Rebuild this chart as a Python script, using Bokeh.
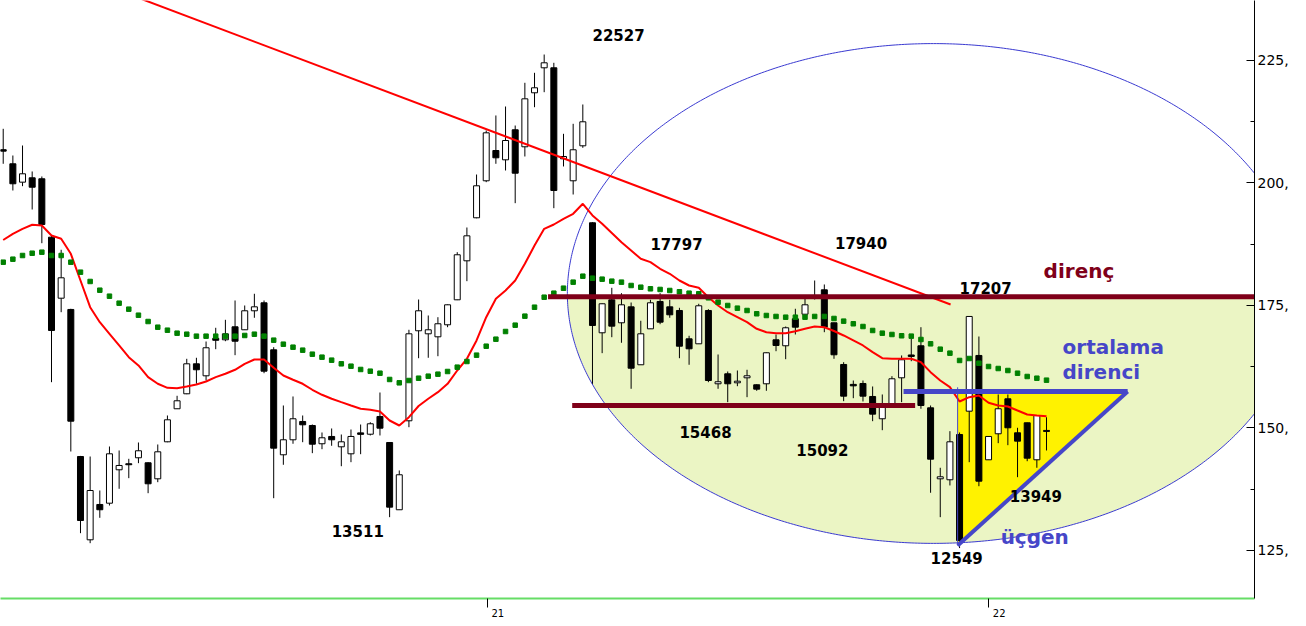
import numpy as np
from bokeh.plotting import figure
from bokeh.models import Range1d, FixedTicker, PrintfTickFormatter, ColumnDataSource
from bokeh.core.properties import value
from bokeh.embed import file_html
from bokeh.resources import INLINE

# ---------------- data (weekly candles, index 0..108) ----------------
opens = [206.8, 203.92, 200.17, 201.06, 200.86, 188.94, 176.49, 174.19, 144.18, 127.18,
         134.39, 134.65, 141.47, 142.7, 143.92, 142.9, 139.63, 147.18, 153.92, 156.98,
         163.1, 160.65, 168.3, 168.0, 170.65, 170.04, 173.92, 175.55, 165.96, 144.53,
         147.59, 151.33, 150.51, 146.78, 148.27, 146.16, 144.73, 149.0, 148.73, 152.35,
         147.04, 133.31, 151.47, 169.84, 169.22, 168.61, 171.06, 176.16, 184.12, 192.9,
         200.45, 206.63, 204.73, 210.86, 207.39, 218.41, 223.51, 223.51, 204.94, 200.45,
         207.59, 191.88, 169.43, 176.16, 171.47, 174.73, 162.9, 170.24, 175.82, 174.73,
         173.98, 168.2, 167.18, 173.98, 159.02, 161.06, 159.22, 160.24, 158.82, 159.02,
         168.0, 166.78, 172.29, 173.22, 176.43, 178.2, 171.47, 162.96, 158.9, 159.08,
         156.43, 151.88, 154.59, 160.24, 164.9, 166.78, 154.12, 139.63, 139.43, 148.67,
         153.43, 164.8, 143.51, 148.82, 155.96, 149.02, 151.06, 143.51, 149.5]
highs = [211.06, 205.61, 207.65, 202.35, 201.33, 189.2, 186.37, 174.33, 144.3, 144.18,
         137.24, 146.22, 145.41, 143.71, 147.04, 143.0, 146.63, 152.55, 156.57, 164.12,
         164.33, 167.65, 170.45, 172.08, 176.02, 175.0, 177.39, 176.02, 166.49, 154.59,
         156.43, 152.55, 150.71, 149.08, 149.9, 148.67, 149.69, 150.71, 151.18, 157.24,
         147.1, 141.33, 170.04, 176.22, 172.96, 172.61, 175.2, 185.88, 190.92, 201.73,
         210.71, 213.78, 215.61, 211.73, 220.45, 222.49, 226.22, 224.53, 210.04, 212.08,
         216.02, 192.0, 175.4, 178.61, 177.51, 175.61, 171.88, 176.16, 177.51, 176.16,
         174.53, 168.82, 175.35, 174.24, 165.0, 161.53, 161.73, 161.88, 158.9, 165.4,
         169.08, 170.71, 174.33, 176.37, 180.1, 179.29, 171.5, 163.43, 159.69, 159.69,
         158.47, 156.84, 160.57, 164.8, 168.2, 170.57, 154.59, 141.88, 149.35, 149.08,
         172.8, 168.67, 148.3, 156.84, 156.84, 150.04, 151.1, 152.6, 152.2]
lows = [203.92, 198.47, 199.35, 194.59, 187.71, 159.35, 173.63, 145.2, 128.53, 126.49,
        131.67, 134.18, 137.59, 139.76, 142.82, 136.69, 138.94, 147.1, 153.9, 156.9,
        159.02, 159.69, 166.08, 167.71, 164.86, 170.0, 172.49, 161.18, 135.67, 142.49,
        146.78, 147.1, 144.86, 145.67, 146.37, 142.2, 143.02, 144.65, 148.47, 148.47,
        131.8, 133.3, 150.16, 164.24, 164.33, 164.65, 170.57, 176.1, 179.96, 192.8,
        200.17, 203.92, 202.55, 195.88, 205.41, 215.47, 218.53, 194.86, 203.37, 197.65,
        207.18, 159.02, 165.27, 168.53, 167.39, 158.0, 162.9, 170.2, 171.18, 172.49,
        164.24, 162.9, 167.2, 159.35, 158.0, 155.27, 158.53, 156.29, 157.59, 157.59,
        165.67, 164.04, 169.08, 173.2, 176.22, 169.55, 164.12, 155.47, 156.08, 155.41,
        151.39, 149.55, 154.5, 155.27, 163.63, 153.92, 136.78, 131.8, 138.27, 125.49,
        143.02, 138.12, 143.5, 146.9, 146.49, 139.96, 143.22, 141.88, 145.41]
closes = [206.5, 199.84, 201.88, 199.14, 191.53, 169.9, 180.65, 151.39, 131.12, 137.24,
          133.31, 144.73, 142.35, 142.5, 145.35, 138.61, 145.14, 151.67, 155.55, 163.1,
          161.88, 166.37, 167.9, 169.22, 167.71, 173.92, 174.73, 161.59, 145.88, 147.59,
          151.88, 150.65, 146.69, 148.0, 147.59, 147.18, 148.27, 148.7, 150.86, 149.96,
          133.84, 140.45, 169.22, 173.92, 170.04, 171.27, 175.14, 185.35, 189.22, 199.43,
          210.24, 205.14, 208.67, 202.0, 217.18, 219.43, 224.53, 198.47, 205.41, 206.78,
          212.49, 170.92, 175.35, 170.78, 175.14, 162.2, 169.22, 175.55, 171.59, 173.1,
          166.69, 166.16, 174.94, 159.69, 159.43, 159.02, 159.55, 160.65, 157.92, 165.35,
          166.84, 170.45, 170.57, 175.14, 177.04, 170.57, 164.94, 156.49, 158.6, 156.49,
          152.82, 154.24, 160.04, 163.92, 164.6, 154.59, 143.63, 140.04, 147.18, 127.04,
          172.76, 139.14, 148.27, 153.92, 150.04, 147.31, 143.84, 152.55, 149.3]
# moving averages as drawn on the chart
ma_red = [188.37, 189.63, 190.65, 191.47, 191.33, 189.29, 188.61, 185.55, 180.1, 174.65,
          171.59, 169.22, 166.84, 164.45, 162.76, 160.37, 159.02, 158.2, 158.12, 158.47,
          158.88, 159.49, 160.37, 161.06, 161.88, 163.1, 163.98, 163.98, 162.29, 160.71,
          159.84, 159.02, 157.8, 156.78, 155.96, 155.27, 154.59, 153.92, 153.71, 153.37,
          151.53, 150.51, 152.2, 154.49, 155.96, 157.31, 159.02, 161.73, 164.12, 167.86,
          172.61, 176.37, 178.06, 180.1, 183.51, 187.24, 190.65, 191.53, 192.69, 193.71,
          195.76, 193.37, 191.67, 189.8, 187.92, 186.22, 184.53, 183.84, 182.49, 181.47,
          180.1, 179.08, 178.61, 176.69, 175.0, 173.63, 172.61, 171.59, 170.24, 169.55,
          169.35, 169.35, 169.76, 170.24, 170.71, 170.57, 169.8, 168.88, 167.86, 166.84,
          165.47, 164.24, 164.12, 164.12, 164.12, 163.43, 161.39, 159.69, 158.33, 155.41,
          156.29, 156.63, 155.14, 154.59, 154.39, 153.57, 152.76, 152.55, 152.41]
ma_green = [183.84, 184.45, 185.2, 185.67, 185.88, 185.2, 185.2, 183.84, 181.8, 179.9,
            178.12, 176.9, 175.47, 174.25, 173.02, 171.73, 170.57, 169.96, 169.35, 169.14,
            168.74, 168.74, 168.74, 168.74, 168.74, 168.88, 169.14, 168.74, 167.92, 167.1,
            166.49, 165.88, 165.06, 164.45, 163.84, 163.1, 162.61, 161.94, 161.59, 161.18,
            159.9, 159.22, 159.69, 160.16, 160.57, 160.98, 161.53, 162.41, 163.57, 164.86,
            166.69, 168.12, 169.69, 170.98, 172.82, 174.65, 176.69, 177.51, 178.53, 179.76,
            180.98, 180.57, 180.37, 179.96, 179.76, 179.08, 178.73, 178.41, 178.27, 178.06,
            177.8, 177.51, 177.39, 176.57, 175.67, 175.0, 174.45, 173.98, 173.31, 172.96,
            172.76, 172.61, 172.61, 172.61, 172.76, 172.76, 172.35, 171.8, 171.27, 170.71,
            169.9, 169.35, 169.08, 168.82, 168.74, 168.06, 167.18, 166.08, 165.27, 163.78,
            164.18, 163.22, 162.55, 162.14, 161.73, 161.18, 160.51, 160.16, 159.76]
weeks = list(range(len(opens)))

year_labels = ["21", "22"]
year_ticks = [50.1, 102.0]            # year boundaries (week index)
year_label_pos = [51.2, 103.1]
price_ticks = [125, 150, 175, 200, 225]
price_minor = [112.5, 137.5, 162.5, 187.5, 212.5, 237.5]

annot_text = ["22527", "17797", "17940", "17207", "15468", "15092", "13511", "13949", "12549"]
annot_x = [63.7, 69.7, 88.8, 101.7, 72.7, 84.8, 36.7, 106.9, 98.7]
annot_y = [230.3, 187.65, 187.85, 178.67, 149.08, 145.41, 128.88, 136.22, 123.37]

# levels / drawn objects
resist_level = 176.8
support_level = 154.6
avg_resist_level = 157.45
trend_x = [14.0, 98.07]
trend_y = [237.78, 175.2]

# ---------------- figure ----------------
p = figure(frame_width=1254, frame_height=598,
           x_range=Range1d(-0.28, 129.53), y_range=Range1d(115.2, 237.245),
           output_backend="svg", toolbar_location=None, y_axis_location="right",
           min_border=0, min_border_left=0, min_border_top=0, min_border_right=0,
           min_border_bottom=0,
           background_fill_color="white", border_fill_color="white")
p.outline_line_color = None
p.xgrid.visible = False
p.ygrid.visible = False

# ellipse (lower part filled)
ECX, ECY, ERX, ERY = 96.3, 177.45, 37.9, 51.0
t = np.linspace(np.pi / 2, np.pi / 2 + 2 * np.pi, 721)
ex = ECX + ERX * np.cos(t)
ey = ECY + ERY * np.sin(t)
mask = ey <= resist_level
p.patch(ex[mask], ey[mask], fill_color="#ebf5c4", line_color=None)

# triangle fill
tri_x = [98.8, 116.4, 98.8]
tri_y = [avg_resist_level, avg_resist_level, 126.0]
p.patch(tri_x, tri_y, fill_color="#fff200", line_color=None)

p.line(ex, ey, line_color="#3a3ad0", line_width=1)

# candles
src = ColumnDataSource(dict(x=weeks, l=lows, h=highs))
up_idx = [i for i in weeks if closes[i] >= opens[i]]
dn_idx = [i for i in weeks if closes[i] < opens[i]]
up = ColumnDataSource(dict(x=[weeks[i] for i in up_idx],
                           top=[max(opens[i], closes[i]) for i in up_idx],
                           bot=[min(opens[i], closes[i]) for i in up_idx]))
dn = ColumnDataSource(dict(x=[weeks[i] for i in dn_idx],
                           top=[max(opens[i], closes[i]) for i in dn_idx],
                           bot=[min(opens[i], closes[i]) for i in dn_idx]))
p.segment(x0="x", y0="l", x1="x", y1="h", source=src, line_color="black", line_width=1)
p.vbar(x="x", top="top", bottom="bot", width=0.62, source=up,
       fill_color="white", line_color="black", line_width=1)
p.vbar(x="x", top="top", bottom="bot", width=0.62, source=dn,
       fill_color="black", line_color="black", line_width=1)

# moving averages
p.line(weeks, ma_red, line_color="#ff0000", line_width=2)
p.scatter(weeks, ma_green, marker="square", size=4.5, fill_color="#008000",
          line_color="#008000")

# trend line
p.line(trend_x, trend_y, line_color="#ff0000", line_width=2)

# horizontal levels
p.line([56.4, 135], [resist_level, resist_level], line_color="#7f0019", line_width=5)
p.line([58.9, 94.4], [support_level, support_level], line_color="#7f0019", line_width=5)
p.line([93.2, 116.4], [avg_resist_level, avg_resist_level], line_color="#4646c8", line_width=5)
p.line([98.8, 98.8], [158.3, 126.0], line_color="#4646c8", line_width=1)
p.line([98.8, 116.4], [126.0, avg_resist_level], line_color="#4646c8", line_width=4)

# annotations
p.text(x=annot_x, y=annot_y, text=annot_text, text_font=value("DejaVu Sans"),
       text_font_style="bold", text_font_size=value("15px"), text_color="black",
       text_align="center", text_baseline="middle")
p.text(x=[107.7], y=[181.94], text=["direnç"], text_font=value("DejaVu Sans"),
       text_font_style="bold", text_font_size=value("20px"), text_color="#7f0019",
       text_align="left", text_baseline="middle")
p.text(x=[109.66, 109.66, 103.25], y=[166.43, 161.33, 127.66],
       text=["ortalama", "direnci", "üçgen"], text_font=value("DejaVu Sans"),
       text_font_style="bold", text_font_size=value("20px"), text_color="#4646c8",
       text_align="left", text_baseline="middle")

# axes
ya = p.yaxis[0]
ya.ticker = FixedTicker(ticks=price_ticks, minor_ticks=price_minor)
ya.formatter = PrintfTickFormatter(format="%d,")
ya.major_tick_in = 8
ya.major_tick_out = 0
ya.minor_tick_in = 4
ya.minor_tick_out = 0
ya.axis_line_color = "black"
ya.major_label_standoff = 3
ya.major_label_text_font = "DejaVu Sans"
ya.major_label_text_font_size = "14px"
ya.major_label_text_color = "black"

xa = p.xaxis[0]
xa.ticker = FixedTicker(ticks=year_label_pos, minor_ticks=year_ticks)
xa.major_label_overrides = {k: v for k, v in zip(year_label_pos, year_labels)}
xa.axis_line_color = "#66dd66"
xa.axis_line_width = 2
xa.major_tick_in = 0
xa.major_tick_out = 0
xa.minor_tick_in = 0
xa.minor_tick_out = 9
xa.minor_tick_line_color = "black"
xa.major_label_standoff = 1
xa.major_label_text_font = "DejaVu Sans"
xa.major_label_text_font_size = "10px"
xa.major_label_text_color = "black"

open("out.html", "w").write(file_html(p, INLINE))
